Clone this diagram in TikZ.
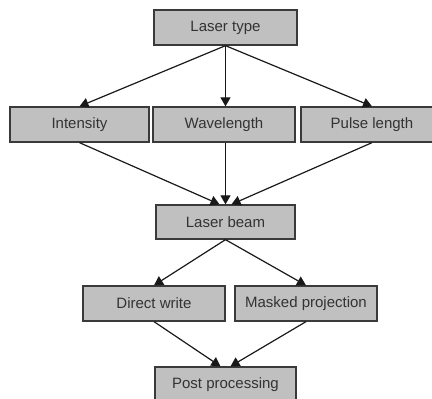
\documentclass[tikz,border=0pt]{standalone}
\usepackage{fontspec}
\setmainfont{Liberation Sans}
\usetikzlibrary{arrows.meta}
\definecolor{boxfill}{HTML}{C0C0C0}
\definecolor{boxline}{HTML}{3A3A3A}
\definecolor{txt}{HTML}{333333}
\tikzset{
  box/.style={draw=boxline, line width=1.3pt, fill=boxfill, minimum height=35pt,
    inner sep=0pt, text=txt, font=\fontsize{15}{17}\selectfont},
  conn/.style={draw=black!90, line width=1.2pt, -{Triangle[length=9pt,width=10pt]}}
}
\begin{document}
\begin{tikzpicture}[x=1pt,y=1pt]
\clip (0,0) rectangle (432,-399);
\useasboundingbox (0,0) rectangle (432,-399);
\node[box, minimum width=143pt] (lt) at (225.5,-27.5) {Laser type};
\node[box, minimum width=139pt] (int) at (79.5,-124.5) {Intensity};
\node[box, minimum width=142pt] (wl) at (224,-124.5) {Wavelength};
\node[box, minimum width=142pt] (pl) at (372,-124.5) {Pulse length};
\node[box, minimum width=139pt, minimum height=34pt] (lb) at (225.5,-222) {Laser beam};
\node[box, minimum width=142pt] (dw) at (154,-303.5) {Direct write};
\node[box, minimum width=142pt] (mp) at (306,-303.5) {Masked projection};
\node[box, minimum width=141pt] (pp) at (225.5,-384.5) {Post processing};
\draw[conn] (lt.south) -- (int.north);
\draw[conn] (lt.south) -- (lt.south |- wl.north);
\draw[conn] (lt.south) -- (pl.north);
\draw[conn] (int.south) -- ([xshift=-6pt]lb.north);
\draw[conn] (wl.south -| lb.north) -- (lb.north);
\draw[conn] (pl.south) -- ([xshift=6pt]lb.north);
\draw[conn] (lb.south) -- (dw.north);
\draw[conn] (lb.south) -- (mp.north);
\draw[conn] (dw.south) -- ([xshift=-5pt]pp.north);
\draw[conn] (mp.south) -- ([xshift=5pt]pp.north);
\end{tikzpicture}
\end{document}
